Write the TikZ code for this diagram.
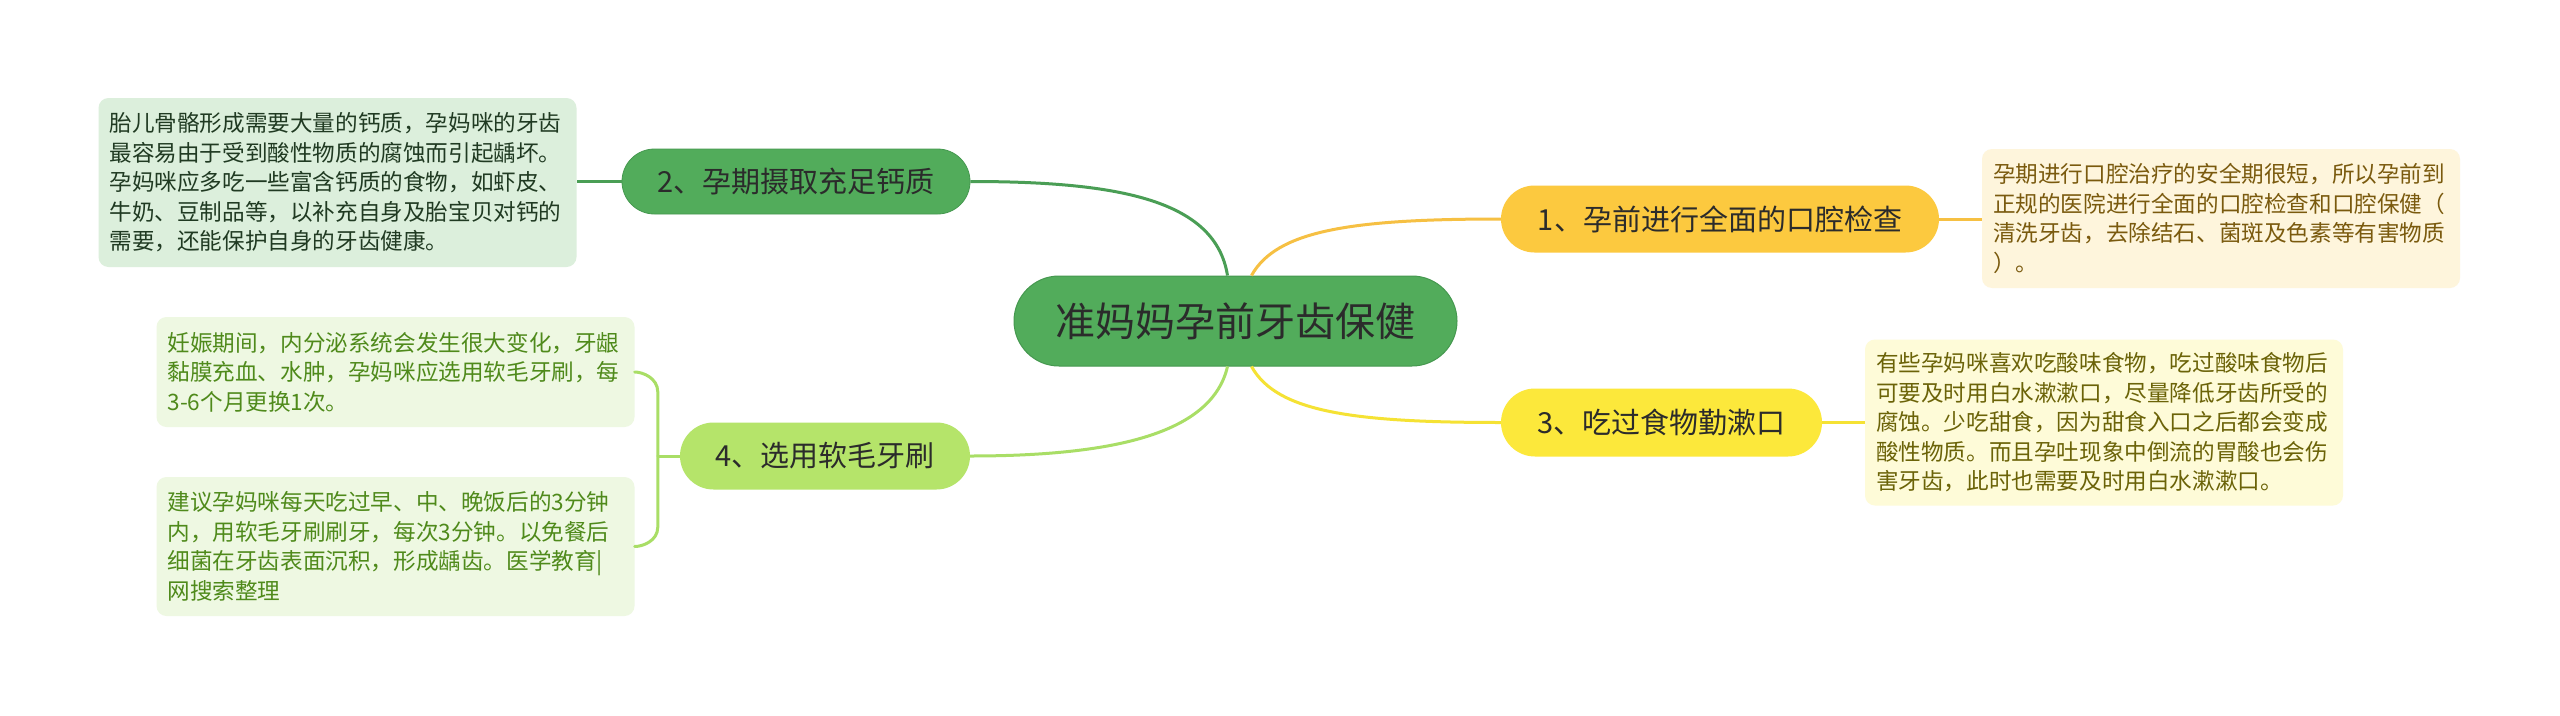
\documentclass[tikz,border=0pt]{standalone}
\usepackage{fontspec}
\setmainfont{Noto Sans CJK SC}
\usetikzlibrary{calc}
\definecolor{cfill}{HTML}{52AC5B}
\definecolor{cdraw}{HTML}{45984F}
\definecolor{ofill}{HTML}{FCC93F}
\definecolor{yfill}{HTML}{FCE83B}
\definecolor{lgfill}{HTML}{B5E46A}
\definecolor{leafg}{HTML}{DCEFDC}
\definecolor{leafo}{HTML}{FEF5DC}
\definecolor{leafy}{HTML}{FEFBD8}
\definecolor{leaflg}{HTML}{EEF8E2}
\definecolor{txtg}{HTML}{203A22}
\definecolor{txto}{HTML}{7A5A0E}
\definecolor{txty}{HTML}{6B6308}
\definecolor{txtlg}{HTML}{4F8A1B}
\definecolor{lineg}{HTML}{4A9E55}
\definecolor{lineo}{HTML}{F6C043}
\definecolor{liney}{HTML}{F5E234}
\definecolor{linelg}{HTML}{A9DE66}
\definecolor{darktxt}{HTML}{2B2B2B}
\tikzset{
  centernode/.style={fill=cfill, draw=cdraw, line width=1pt, inner sep=0pt, minimum width=443pt, minimum height=90pt, rounded corners=45pt, text=darktxt, font=\fontsize{40}{46}\selectfont},
  topic/.style={inner sep=0pt, text=darktxt, font=\fontsize{29}{34}\selectfont},
  leaf/.style={rounded corners=10pt, inner xsep=11pt, inner ysep=0pt, text width=456pt, align=left, font=\fontsize{22.6}{29.5}\selectfont},
  conn/.style={line width=3pt},
}
\begin{document}
\begin{tikzpicture}[x=1pt,y=-1pt]
\fill[white] (0,0) rectangle (2560,715);
\useasboundingbox (0,0) rectangle (2560,715);

% central and main topics
\node[centernode] (c) at (1235.5,321) {准妈妈孕前牙齿保健};
\node[topic, fill=cfill, draw=cdraw, line width=0.8pt, minimum width=348pt, minimum height=65pt, rounded corners=32.5pt] (n2) at (796,181.5) {2、孕期摄取充足钙质};
\node[topic, fill=ofill, minimum width=438pt, minimum height=67pt, rounded corners=33.5pt] (n1) at (1720,219) {1、孕前进行全面的口腔检查};
\node[topic, fill=yfill, minimum width=321pt, minimum height=68pt, rounded corners=34pt] (n3) at (1661.5,422.5) {3、吃过食物勤漱口};
\node[topic, fill=lgfill, minimum width=290pt, minimum height=67pt, rounded corners=33.5pt] (n4) at (825,456) {4、选用软毛牙刷};

% leaves
\node[leaf, fill=leafg, text=txtg, minimum height=169pt] (l2) at (337.5,182.5) {胎儿骨骼形成需要大量的钙质，孕妈咪的牙齿\\最容易由于受到酸性物质的腐蚀而引起龋坏。\\孕妈咪应多吃一些富含钙质的食物，如虾皮、\\牛奶、豆制品等，以补充自身及胎宝贝对钙的\\需要，还能保护自身的牙齿健康。};
\node[leaf, fill=leafo, text=txto, minimum height=139pt] (l1) at (2221,218.5) {孕期进行口腔治疗的安全期很短，所以孕前到\\正规的医院进行全面的口腔检查和口腔保健（\\清洗牙齿，去除结石、菌斑及色素等有害物质\\）。};
\node[leaf, fill=leafy, text=txty, minimum height=166pt] (l3) at (2104,422.5) {有些孕妈咪喜欢吃酸味食物，吃过酸味食物后\\可要及时用白水漱漱口，尽量降低牙齿所受的\\腐蚀。少吃甜食，因为甜食入口之后都会变成\\酸性物质。而且孕吐现象中倒流的胃酸也会伤\\害牙齿，此时也需要及时用白水漱漱口。};
\node[leaf, fill=leaflg, text=txtlg, minimum height=110pt] (l4a) at (395.5,372) {妊娠期间，内分泌系统会发生很大变化，牙龈\\黏膜充血、水肿，孕妈咪应选用软毛牙刷，每\\3-6个月更换1次。};
\node[leaf, fill=leaflg, text=txtlg, minimum height=139pt] (l4b) at (395.5,546.5) {建议孕妈咪每天吃过早、中、晚饭后的3分钟\\内，用软毛牙刷刷牙，每次3分钟。以免餐后\\细菌在牙齿表面沉积，形成龋齿。医学教育|\\网搜索整理};

% connectors from the centre
\draw[conn, lineg] ([xshift=-8pt]c.north) .. controls +(-12,-75) and +(150,0) .. (n2.east);
\draw[conn, lineo] ([xshift=16pt]c.north) .. controls +(25,-45) and +(-150,0) .. (n1.west);
\draw[conn, liney] ([xshift=16pt]c.south) .. controls +(25,45) and +(-150,0) .. (n3.west);
\draw[conn, linelg] ([xshift=-8pt]c.south) .. controls +(-15,65) and +(150,0) .. (n4.east);

% connectors to leaves
\draw[conn, lineg] (n2.west) -- (l2.east |- n2.west);
\draw[conn, lineo] (n1.east) -- (l1.west |- n1.east);
\draw[conn, liney] (n3.east) -- (l3.west |- n3.east);
\coordinate (br) at ($(n4.west)+(-22,0)$);
\draw[conn, linelg] (n4.west) -- (br);
\draw[conn, linelg, line cap=round] (br) -- (br |- 0,392) .. controls ($(br |- 0,378)$) and ($(l4a.east)+(8,0)$) .. (l4a.east);
\draw[conn, linelg, line cap=round] (br) -- (br |- 0,527) .. controls ($(br |- 0,541)$) and ($(l4b.east)+(8,0)$) .. (l4b.east);
\end{tikzpicture}
\end{document}
